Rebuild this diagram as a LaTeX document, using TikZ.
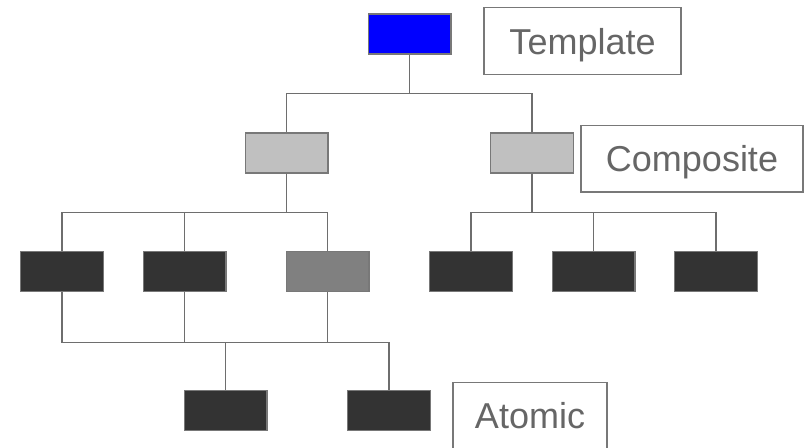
\documentclass[tikz,border=0pt]{standalone}
\usepackage{fontspec}
\setmainfont{Liberation Sans}
\usepackage{xcolor}
\definecolor{linegray}{HTML}{6E6E6E}
\definecolor{boxedge}{HTML}{787878}
\definecolor{textgray}{HTML}{666666}
\definecolor{lightbox}{HTML}{C0C0C0}
\definecolor{midbox}{HTML}{808080}
\definecolor{darkbox}{HTML}{333333}

\begin{document}
\begin{tikzpicture}[x=0.75pt, y=-0.75pt,
    blk/.style={draw=boxedge, line width=1pt, minimum width=62pt, minimum height=30pt, inner sep=0pt},
    lbl/.style={draw=boxedge, line width=1pt, fill=white, text=textgray, minimum height=50pt, inner sep=0pt, text depth=0pt, font=\fontsize{27}{30}\selectfont},
    conn/.style={linegray, line width=1pt}]
    \useasboundingbox (0,0) rectangle (806,447);

    % Шаблон
    \node[blk, fill=blue] (top) at (409.5,34) {};
    \node[lbl, minimum width=147.75pt] (template) at (582.5,41) {Template};

    % Составные
    \node[blk, fill=lightbox] (cl) at (286.5,153) {};
    \node[blk, fill=lightbox] (cr) at (532,153) {};
    \node[lbl, minimum width=166.5pt] (composite) at (692,158.5) {Composite};

    % Средний ряд
    \node[blk, fill=darkbox] (a1) at (62,271.5) {};
    \node[blk, fill=darkbox] (a2) at (184.5,271.5) {};
    \node[blk, fill=midbox]  (c3) at (327.5,271.5) {};
    \node[blk, fill=darkbox] (a4) at (471,271.5) {};
    \node[blk, fill=darkbox] (a5) at (593.5,271.5) {};
    \node[blk, fill=darkbox] (a6) at (716,271.5) {};

    % Нижний ряд
    \node[blk, fill=darkbox] (b1) at (225.5,410.5) {};
    \node[blk, fill=darkbox] (b2) at (389,410.5) {};
    \node[lbl, minimum width=115.5pt] (atomic) at (530,415.5) {Atomic};

    % Связи
    \foreach \n in {cl,cr}
        \draw[conn] (top.south) -- ++(0,39) -| (\n.north);
    \foreach \n in {a1,a2,c3}
        \draw[conn] (cl.south) -- ++(0,39) -| (\n.north);
    \foreach \n in {a4,a5,a6}
        \draw[conn] (cr.south) -- ++(0,39) -| (\n.north);
    \foreach \n in {b1,b2}
        \draw[conn] (a1.south) -- ++(0,50) -| (\n.north);
    \foreach \n in {a2,c3}
        \draw[conn] (\n.south) -- ++(0,50);
\end{tikzpicture}
\end{document}
